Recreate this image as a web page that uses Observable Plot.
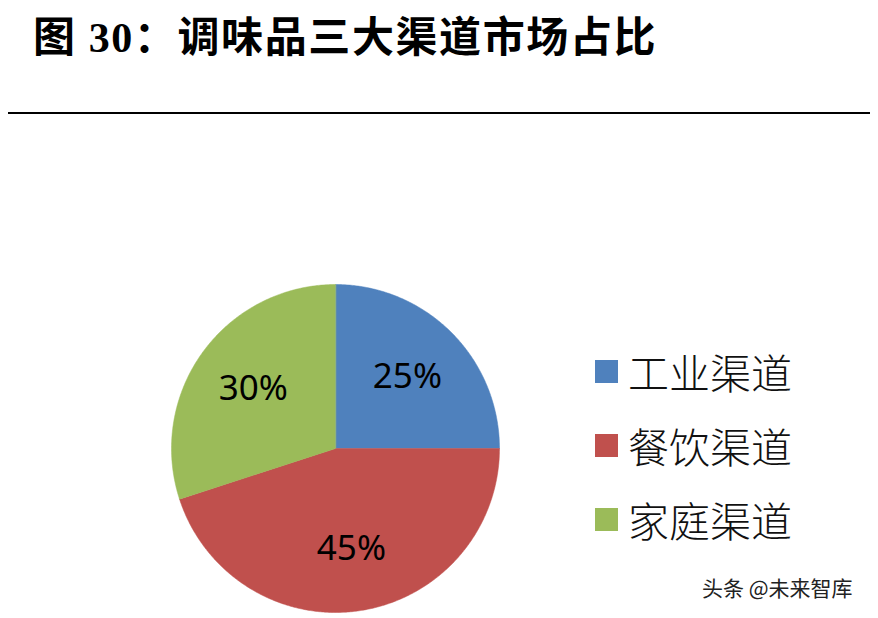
<!DOCTYPE html>
<html><head><meta charset="utf-8">
<script src="https://cdn.jsdelivr.net/npm/d3@7"></script>
<script src="https://cdn.jsdelivr.net/npm/@observablehq/plot@0.6"></script>
<style>
body{margin:0;background:#fff;}
#root{position:relative;width:878px;height:618px;overflow:hidden;background:#fff;}
#title{position:absolute;left:33px;top:17px;font:bold 42px/42px "Liberation Serif","Noto Sans CJK SC";letter-spacing:1.6px;color:#000;white-space:nowrap;}
#rule{position:absolute;left:8px;top:112px;width:862px;height:2px;background:#000;}
#pie{position:absolute;left:165px;top:278px;}
#legend{position:absolute;left:595px;top:351px;}
.row{display:flex;align-items:center;height:41px;margin-bottom:33px;font:300 41px/41px "Noto Sans CJK SC";color:#111;white-space:nowrap;}
.sw{width:23px;height:23px;margin-right:10px;flex:none;}
#wm{position:absolute;left:702px;top:575px;font:21px/24px "Noto Sans CJK SC";color:#222;white-space:nowrap;}
</style></head>
<body><div id="root">
<div id="title">图 30：调味品三大渠道市场占比</div>
<div id="rule"></div>
<div id="pie"></div>
<div id="legend"></div>
<div id="wm">头条 @未来智库</div>
</div>
<script>
const channels = ["工业渠道", "餐饮渠道", "家庭渠道"];
const shares = [25, 45, 30];
const labels = ["25%", "45%", "30%"];
const palette = ["#4F81BD", "#C0504D", "#9BBB59"];

const arcs = d3.pie().sort(null).value(d => d)(shares);
const pts = [];
const lbl = [];
arcs.forEach((a, i) => {
  const n = Math.max(2, Math.ceil((a.endAngle - a.startAngle) / (Math.PI / 360)));
  pts.push({k: channels[i], x: 0, y: 0});
  for (let j = 0; j <= n; j++) {
    const t = a.startAngle + (a.endAngle - a.startAngle) * j / n;
    pts.push({k: channels[i], x: Math.sin(t), y: Math.cos(t)});
  }
  const m = (a.startAngle + a.endAngle) / 2;
  lbl.push({k: channels[i], t: labels[i], x: 0.62 * Math.sin(m), y: 0.62 * Math.cos(m)});
});

const plot = Plot.plot({
  width: 340, height: 340, margin: 6,
  x: {domain: [-1, 1], axis: null},
  y: {domain: [-1, 1], axis: null},
  color: {domain: channels, range: palette},
  style: {background: "transparent", overflow: "visible"},
  marks: [
    Plot.line(pts, {x: "x", y: "y", z: "k", fill: "k", stroke: "k", strokeWidth: 0.5, curve: "linear-closed"}),
    Plot.text(lbl, {x: "x", y: "y", text: "t", fontSize: 35, fontFamily: "Noto Sans", fill: "#000"})
  ]
});
document.getElementById("pie").appendChild(plot);

const color = plot.scale("color");
const leg = document.getElementById("legend");
channels.forEach((c, i) => {
  const row = document.createElement("div");
  row.className = "row";
  const sw = document.createElement("div");
  sw.className = "sw";
  sw.style.background = palette[color.domain.indexOf(c)];
  const tx = document.createElement("span");
  tx.textContent = c;
  row.appendChild(sw); row.appendChild(tx);
  leg.appendChild(row);
});
</script>
</body></html>
